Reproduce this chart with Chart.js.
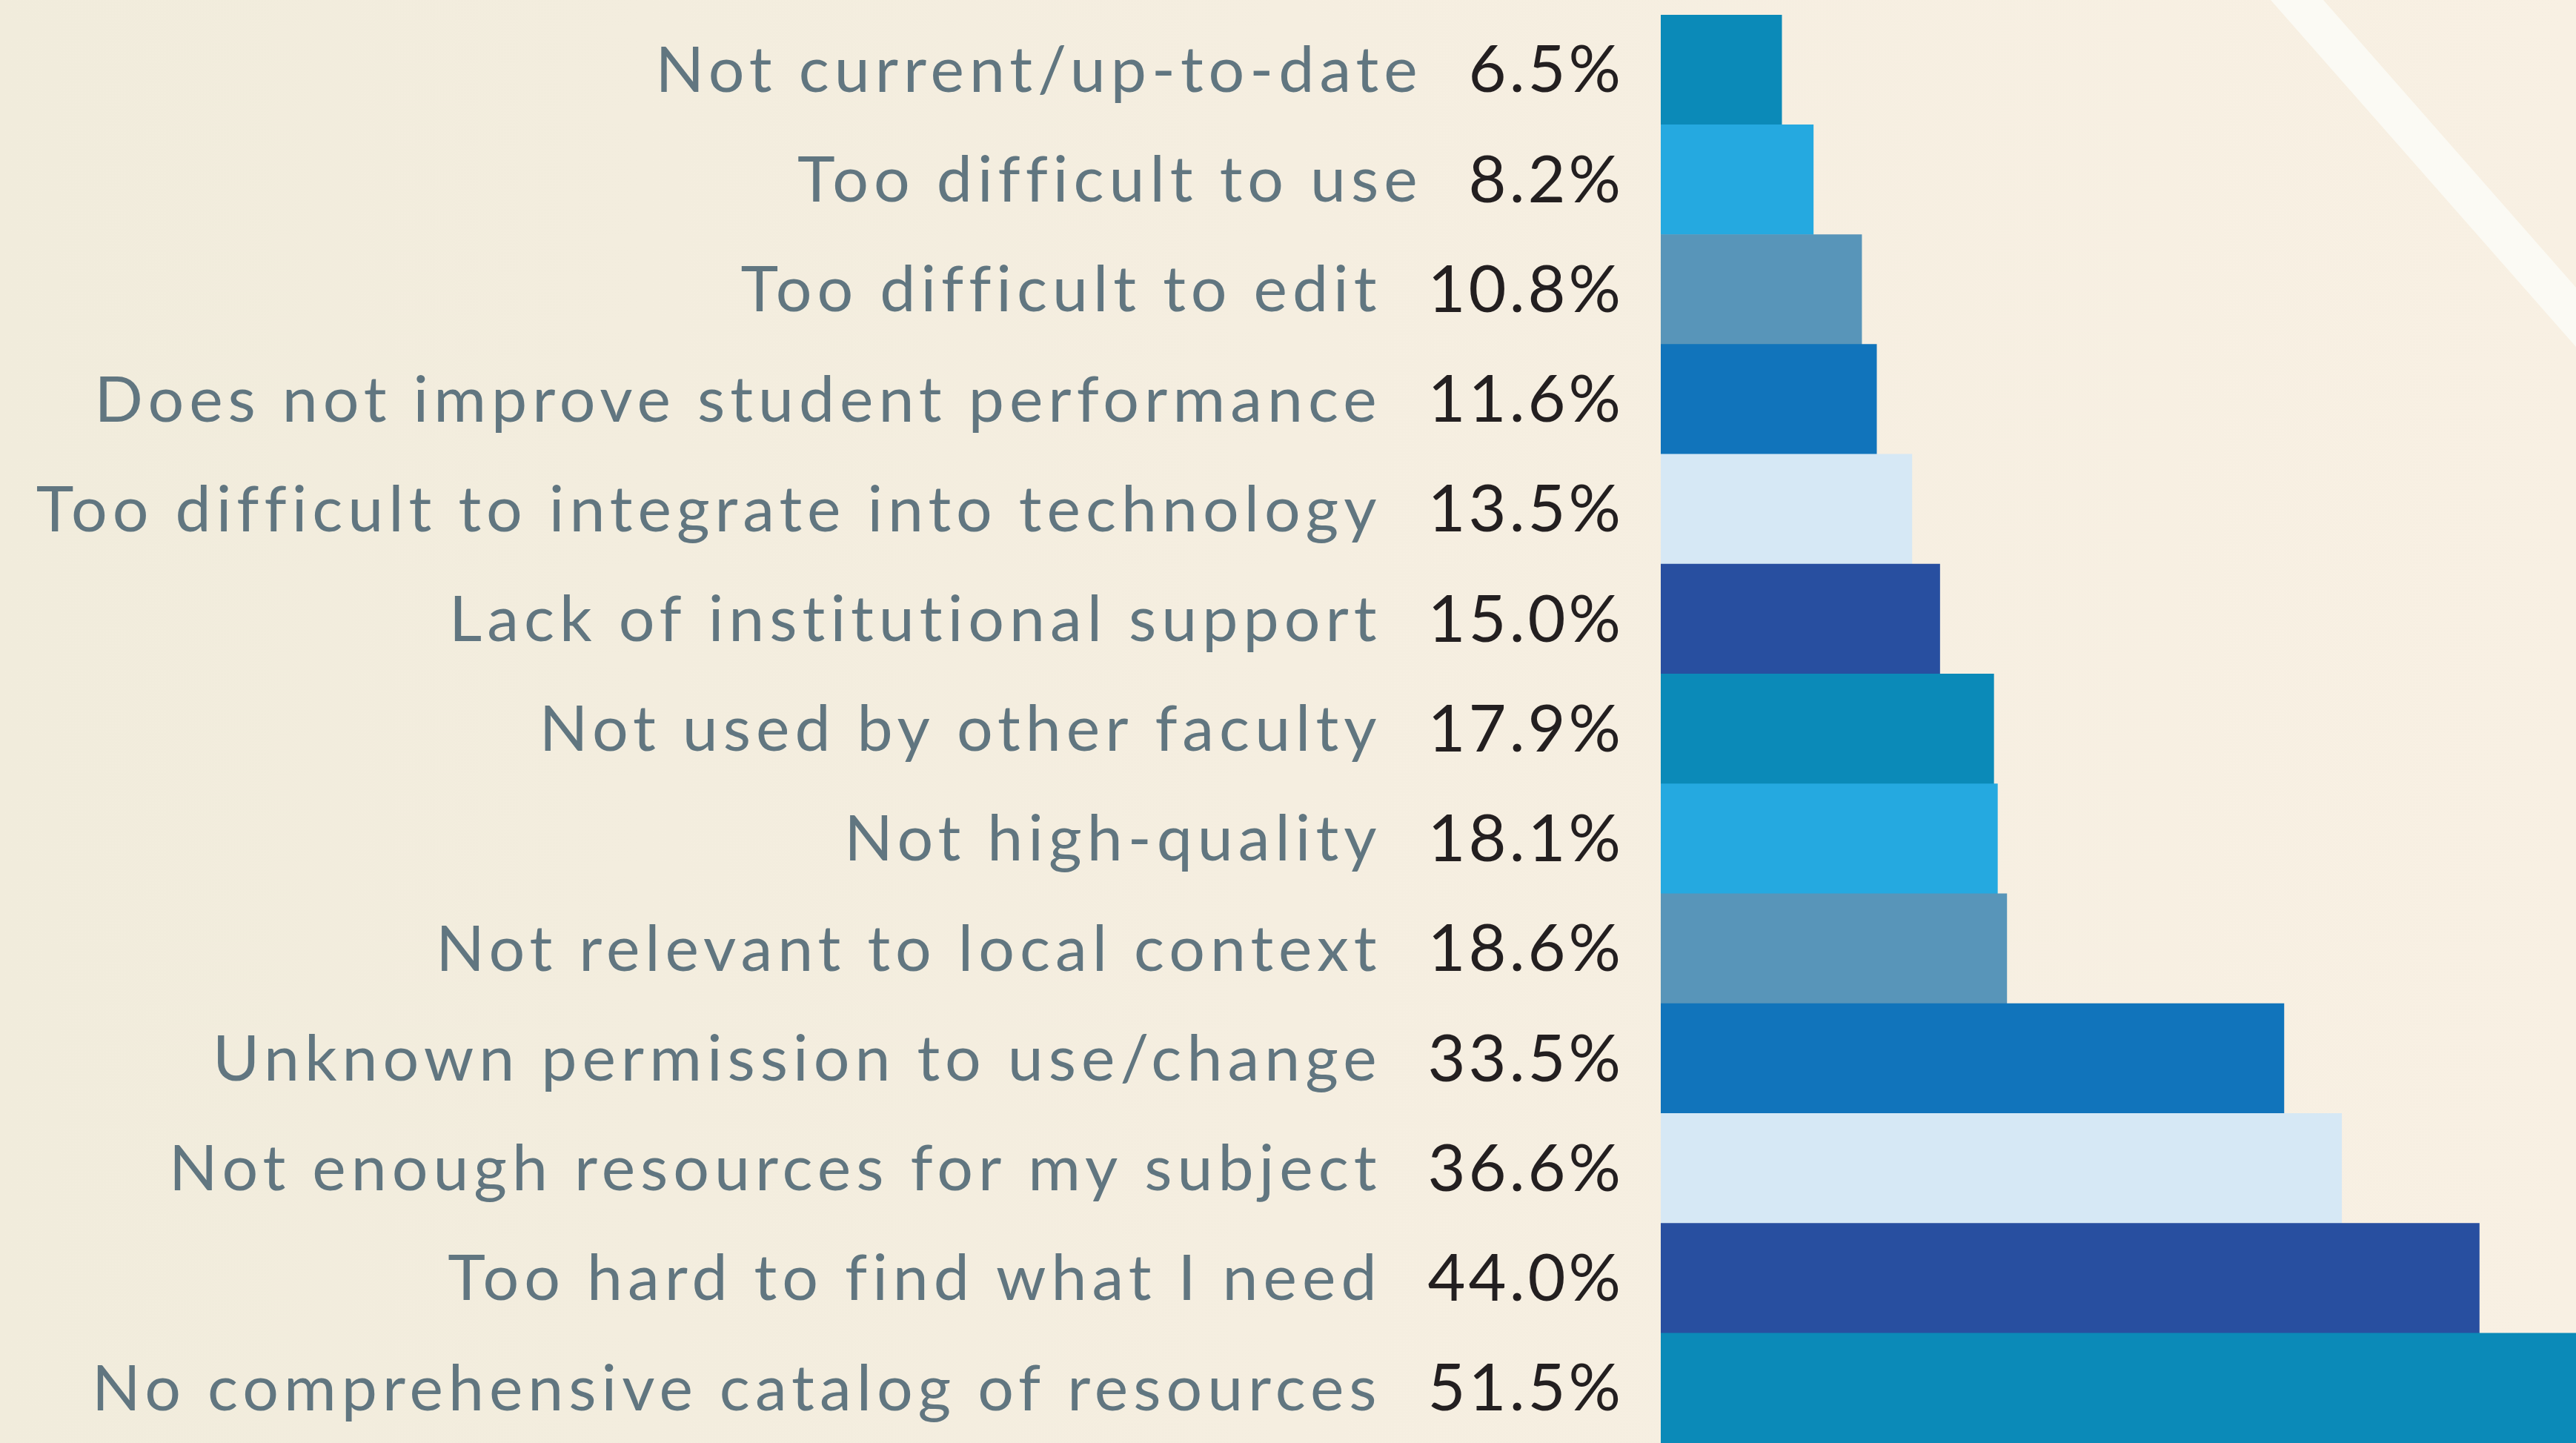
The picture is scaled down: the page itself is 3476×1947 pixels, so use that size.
<!DOCTYPE html>
<html>
<head>
<meta charset="utf-8">
<script src="https://cdn.jsdelivr.net/npm/chart.js@4"></script>
<style>
  html, body { margin: 0; padding: 0; overflow: hidden; }
  body { width: 3476px; height: 1947px; background: linear-gradient(90deg, #f1ecdc 0%, #f5eee0 50%, #f8f0e3 100%); }
  #wrap { position: absolute; left: 0; top: 0; width: 3476px; height: 1947px; }
</style>
</head>
<body>
<div id="wrap"><canvas id="barChart" width="3476" height="1947"></canvas></div>
<script>
// reasons for not using OER, top to bottom
const reasons = [
  "Not current/up-to-date",
  "Too difficult to use",
  "Too difficult to edit",
  "Does not improve student performance",
  "Too difficult to integrate into technology",
  "Lack of institutional support",
  "Not used by other faculty",
  "Not high-quality",
  "Not relevant to local context",
  "Unknown permission to use/change",
  "Not enough resources for my subject",
  "Too hard to find what I need",
  "No comprehensive catalog of resources"
];
const percents = [6.5, 8.2, 10.8, 11.6, 13.5, 15.0, 17.9, 18.1, 18.6, 33.5, 36.6, 44.0, 51.5];
const barColors = ["#0b8ab8", "#25a9e0", "#5895b9", "#1174bb", "#d6e8f5", "#284fa0",
                   "#0b8ab8", "#25a9e0", "#5895b9", "#1174bb", "#d6e8f5", "#284fa0", "#0b8ab8"];

var labelColor = "#617680";
var valueColor = "#231f20";

// light diagonal stripe in the top right corner
const stripe = {
  id: "stripe",
  beforeDraw(chart) {
    var ctx = chart.ctx;
    ctx.save();
    ctx.fillStyle = "#fbfaf4";
    ctx.beginPath();
    ctx.moveTo(3064, 0);
    ctx.lineTo(3135, 0);
    ctx.lineTo(3476, 388);
    ctx.lineTo(3476, 468);
    ctx.closePath();
    ctx.fill();
    ctx.restore();
  }
};

// category name + percentage to the left of each bar
const sideLabels = {
  id: "sideLabels",
  afterDraw(chart) {
    var ctx = chart.ctx;
    var yScale = chart.scales.y;
    var left = chart.chartArea.left;
    ctx.save();
    ctx.textBaseline = "middle";
    ctx.textAlign = "right";
    reasons.forEach(function (name, i) {
      var y = yScale.getPixelForValue(i) + 2;
      var valText = percents[i].toFixed(1) + "%";
      ctx.font = "88px Lato";
      ctx.letterSpacing = "4px";
      ctx.fillStyle = valueColor;
      var valX = left - 50;
      ctx.fillText(valText, valX, y);
      var w = ctx.measureText(valText).width;
      ctx.font = "86px Lato";
      ctx.letterSpacing = "7px";
      ctx.fillStyle = labelColor;
      ctx.fillText(name, valX - w - 62, y);
    });
    ctx.restore();
  }
};

var ctx = document.getElementById("barChart").getContext("2d");
var chart = new Chart(ctx, {
  type: "bar",
  data: {
    labels: reasons,
    datasets: [{
      data: percents,
      backgroundColor: barColors,
      borderWidth: 0,
      barPercentage: 1,
      categoryPercentage: 1
    }]
  },
  options: {
    indexAxis: "y",
    responsive: false,
    animation: false,
    devicePixelRatio: 1,
    layout: { padding: { left: 2241, top: 20, right: 0, bottom: 0 } },
    plugins: { legend: { display: false }, tooltip: { enabled: false } },
    scales: {
      x: { display: false, min: 0, max: 49.2, grid: { display: false } },
      y: { display: false, grid: { display: false } }
    }
  },
  plugins: [stripe, sideLabels]
});
</script>
</body>
</html>
